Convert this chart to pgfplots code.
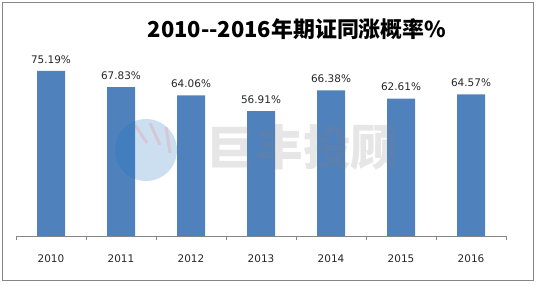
\documentclass[border=0pt]{standalone}
\usepackage{pgfplots}
\pgfplotsset{compat=1.18}
\usepackage{fontspec}
\setmainfont{DejaVu Sans}
\newfontfamily\cjk{Noto Sans CJK SC}
\definecolor{barblue}{HTML}{4F81BD}
\definecolor{axgray}{HTML}{868686}
\begin{document}
\begin{tikzpicture}[x=1bp,y=1bp]
\path (0,0) rectangle (536,283);
\draw[axgray, line width=0.8bp] (2.5,2.5) rectangle (533.5,281);
\begin{axis}[
  at={(16bp,47bp)}, anchor=south west,
  scale only axis, width=490bp, height=175.6bp,
  xmin=-0.5, xmax=6.5, ymin=0, ymax=80,
  axis x line=bottom, axis y line=none,
  axis line style={-, axgray, line width=0.8bp},
  xtick={0,...,6},
  xticklabels={2010,2011,2012,2013,2014,2015,2016},
  minor xtick={-0.5,0.5,...,6.5},
  major tick length=0pt,
  minor tick length=4bp,
  tick align=outside,
  minor tick style={axgray, line width=0.6bp},
  ytick=\empty,
  xticklabel style={font=\fontsize{10.5}{12}\selectfont, yshift=-15bp, text=black!85},
  clip=false,
  nodes near coords={\pgfmathprintnumber[fixed,fixed zerofill,precision=2,assume math mode=true]{\pgfplotspointmeta}\%},
  nodes near coords style={font=\fontsize{10.5}{12}\selectfont, anchor=south, yshift=4bp, text=black!85},
]
\addplot[ybar, bar width=28bp, fill=barblue, draw=none] coordinates {
(0,75.19) (1,67.83) (2,64.06) (3,56.91) (4,66.38) (5,62.61) (6,64.57)};
\end{axis}
% watermark
\fill[cyan!50!blue, opacity=0.22] (146,133) circle (31);
\draw[red!60, opacity=0.2, line width=3bp] (150,160) -- (160,138);
\draw[red!60, opacity=0.2, line width=3bp] (166,156) -- (170,130);
\draw[red!60, opacity=0.2, line width=3bp] (135,158) -- (147,140);
\node[text=gray, opacity=0.2, font=\cjk\bfseries\fontsize{48}{48}\selectfont] at (303,135) {巨丰投顾};
% title
\node[font=\cjk\bfseries\fontsize{22}{22}\selectfont] at (297,254) {2010-{}-2016年期证同涨概率\%};
\end{tikzpicture}
\end{document}
